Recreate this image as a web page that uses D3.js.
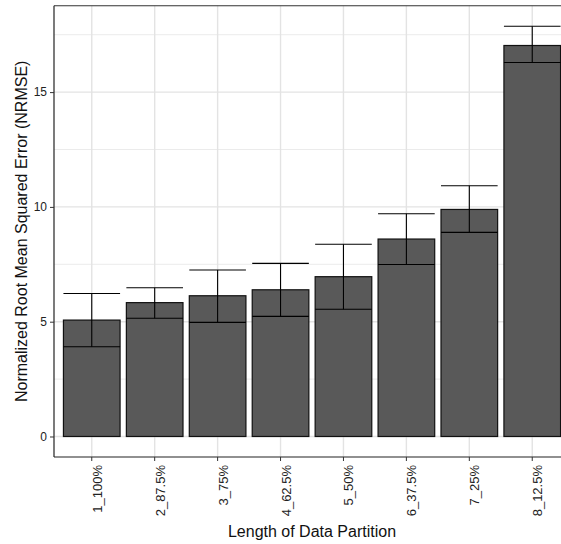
<!DOCTYPE html>
<html><head><meta charset="utf-8">
<script src="https://cdn.jsdelivr.net/npm/d3@7"></script>
<style>body{margin:0;background:#fff}svg{display:block}text{font-family:"Liberation Sans",Arial,sans-serif}</style>
</head><body>
<script>
const categories = ["1_100%","2_87.5%","3_75%","4_62.5%","5_50%","6_37.5%","7_25%","8_12.5%"];
const means = [5.07, 5.83, 6.13, 6.39, 6.96, 8.60, 9.89, 17.03];
const lowers = [3.91, 5.15, 4.97, 5.23, 5.54, 7.49, 8.89, 16.29];
const uppers = [6.23, 6.48, 7.25, 7.54, 8.37, 9.70, 10.92, 17.87];
const yTicks = [0, 5, 10, 15];
const yMinor = [2.5, 7.5, 12.5, 17.5];

(function(){
const W = 561, H = 544;
const pL = 54, pR = 570, pT = 5.7, pB = 457;
const svg = d3.select("body").append("svg").attr("width", W).attr("height", H);

const x = d3.scaleBand().domain(categories).range([pL, pR]).paddingInner(0.1).paddingOuter(0.15);
const ymax = d3.max(uppers);
const y = d3.scaleLinear().domain([-0.05*ymax, ymax*1.05]).range([pB, pT]);

const g = svg.append("g");
g.selectAll(".ymin").data(yMinor).join("line")
  .attr("x1", pL).attr("x2", pR).attr("y1", d=>y(d)).attr("y2", d=>y(d))
  .attr("stroke", "#ebebeb").attr("stroke-width", 1);
g.selectAll(".ymaj").data(yTicks).join("line")
  .attr("x1", pL).attr("x2", pR).attr("y1", d=>y(d)).attr("y2", d=>y(d))
  .attr("stroke", "#e3e3e3").attr("stroke-width", 1.4);
g.selectAll(".xmaj").data(categories).join("line")
  .attr("x1", d=>x(d)+x.bandwidth()/2).attr("x2", d=>x(d)+x.bandwidth()/2)
  .attr("y1", pT).attr("y2", pB)
  .attr("stroke", "#e3e3e3").attr("stroke-width", 1.4);

g.selectAll(".bar").data(categories).join("rect")
  .attr("x", d=>x(d)).attr("width", x.bandwidth())
  .attr("y", (d,i)=>y(means[i])).attr("height", (d,i)=>y(0)-y(means[i]))
  .attr("fill", "#595959").attr("stroke", "#111").attr("stroke-width", 1.2);

const eb = g.selectAll(".eb").data(categories).join("g");
eb.append("line").attr("x1", d=>x(d)+x.bandwidth()/2).attr("x2", d=>x(d)+x.bandwidth()/2)
  .attr("y1", (d,i)=>y(lowers[i])).attr("y2", (d,i)=>y(uppers[i]))
  .attr("stroke", "#000").attr("stroke-width", 1.1);
eb.append("line").attr("x1", d=>x(d)).attr("x2", d=>x(d)+x.bandwidth())
  .attr("y1", (d,i)=>y(lowers[i])).attr("y2", (d,i)=>y(lowers[i]))
  .attr("stroke", "#000").attr("stroke-width", 1.1);
eb.append("line").attr("x1", d=>x(d)).attr("x2", d=>x(d)+x.bandwidth())
  .attr("y1", (d,i)=>y(uppers[i])).attr("y2", (d,i)=>y(uppers[i]))
  .attr("stroke", "#000").attr("stroke-width", 1.1);

svg.append("line").attr("x1", pL).attr("x2", pR).attr("y1", pT).attr("y2", pT)
  .attr("stroke", "#333").attr("stroke-width", 1.1);

const yAxis = svg.append("g").attr("transform", `translate(${pL},0)`)
  .call(d3.axisLeft(y).tickValues(yTicks).tickSize(4).tickPadding(3));
yAxis.select(".domain").attr("d", `M0,${pT}V${pB}`).attr("stroke", "#222").attr("stroke-width", 1.2);
yAxis.selectAll(".tick line").attr("stroke", "#333");
yAxis.selectAll("text").attr("font-size", 12).attr("fill", "#222");

const xAxis = svg.append("g").attr("transform", `translate(0,${pB})`)
  .call(d3.axisBottom(x).tickSize(4).tickPadding(3));
xAxis.select(".domain").attr("d", `M${pL},0H${pR}`).attr("stroke", "#222").attr("stroke-width", 1.2);
xAxis.selectAll(".tick line").attr("stroke", "#333");
xAxis.selectAll("text").attr("font-size", 13).attr("fill", "#222")
  .attr("transform", "rotate(-90)").attr("text-anchor", "end")
  .attr("x", -8).attr("y", 10).attr("dy", 0);

svg.append("text").attr("x", (pL+pR)/2).attr("y", 536.5).attr("text-anchor", "middle")
  .attr("font-size", 16).attr("fill", "#111").text("Length of Data Partition");
svg.append("text").attr("transform", `translate(27,${(pT+pB)/2}) rotate(-90)`)
  .attr("text-anchor", "middle").attr("font-size", 16).attr("fill", "#111")
  .text("Normalized Root Mean Squared Error (NRMSE)");
})();
</script>
</body></html>
